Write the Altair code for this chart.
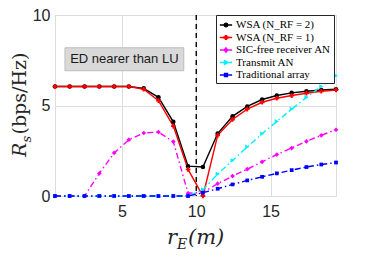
import altair as alt
import pandas as pd

# ---------------- data ----------------
r_e = [0.5, 1.49, 2.49, 3.48, 4.48, 5.47, 6.47, 7.46, 8.46, 9.45,
       10.45, 11.44, 12.44, 13.43, 14.43, 15.42, 16.42, 17.41, 18.41, 19.4]

wsa_nrf2 = [6.05, 6.05, 6.05, 6.05, 6.05, 6.05, 5.95, 5.45, 4.1, 1.65,
            1.6, 3.45, 4.4, 4.95, 5.33, 5.55, 5.7, 5.79, 5.86, 5.9]
wsa_nrf1 = [6.05, 6.05, 6.05, 6.05, 6.05, 6.05, 5.9, 5.27, 3.86, 1.47,
            0.0, 3.35, 4.23, 4.8, 5.18, 5.4, 5.55, 5.68, 5.79, 5.86]
sic_free = [0.0, 0.0, 0.0, 1.25, 2.38, 3.11, 3.48, 3.53, 3.0, 0.15,
            0.2, 0.68, 1.1, 1.48, 1.89, 2.29, 2.65, 3.02, 3.35, 3.66]
transmit_an = [0.0, 0.0, 0.0, 0.0, 0.0, 0.0, 0.0, 0.0, 0.0, 0.0,
               0.35, 1.21, 1.96, 2.71, 3.44, 4.12, 4.8, 5.45, 6.05, 6.65]
traditional = [0.0, 0.0, 0.0, 0.0, 0.0, 0.0, 0.0, 0.0, 0.0, 0.0,
               0.18, 0.4, 0.64, 0.86, 1.06, 1.25, 1.43, 1.6, 1.74, 1.85]

series_names = ["WSA (N_RF = 2)", "WSA (N_RF = 1)", "SIC-free receiver AN",
                "Transmit AN", "Traditional array"]
series_values = [wsa_nrf2, wsa_nrf1, sic_free, transmit_an, traditional]
series_colors = ["#000000", "#ff0000", "#ff00ff", "#00f0ff", "#0000ff"]
series_shapes = ["circle", "cross", "diamond", "triangle-right", "square"]
series_sizes = [20, 22, 22, 22, 14]
dashdot = [6, 3, 1.5, 3]
series_dash = [None, None, dashdot, dashdot, dashdot]

# legend symbols: short line with a marker in the middle
LINE = "M-1,0L1,0"
legend_paths = [
    LINE + "M-0.3,0A0.3,0.3,0,1,0,0.3,0A0.3,0.3,0,1,0,-0.3,0Z",
    LINE + "M-0.1,-0.32H0.1V-0.1H0.32V0.1H0.1V0.32H-0.1V0.1H-0.32V-0.1H-0.1Z",
    LINE + "M0,-0.35L0.3,0L0,0.35L-0.3,0Z",
    LINE + "M-0.25,-0.3L0.35,0L-0.25,0.3Z",
    LINE + "M-0.25,-0.25H0.25V0.25H-0.25Z",
]

divider_x = [10]
note_text = ["ED nearer than LU"]
note_box_x = [1.17, 9.16]
note_box_y = [6.92, 8.19]

# ---------------- build tables ----------------
rows = []
for name, vals in zip(series_names, series_values):
    for xv, yv in zip(r_e, vals):
        rows.append({"x": xv, "y": yv, "series": name})
df = pd.DataFrame(rows)

W, H = 281, 181
xs = alt.Scale(domain=[0.5, 19.4], nice=False, zero=False)
ys = alt.Scale(domain=[0, 10], nice=False)
xaxis = alt.Axis(values=[5, 10, 15], title=None, grid=True, ticks=False,
                 domain=False, labelFontSize=16, labelPadding=7,
                 labelFont="Liberation Sans", labelColor="#262626")
yaxis = alt.Axis(values=[0, 5, 10], title=None, grid=True, ticks=False,
                 domain=False, labelFontSize=16, labelPadding=5,
                 labelFont="Liberation Sans", labelColor="#262626")
X = alt.X("x:Q", scale=xs, axis=xaxis)
Y = alt.Y("y:Q", scale=ys, axis=yaxis)

layers = []

# annotation box
box_df = pd.DataFrame({"x": [note_box_x[0]], "x2": [note_box_x[1]],
                       "y": [note_box_y[0]], "y2": [note_box_y[1]],
                       "xm": [(note_box_x[0] + note_box_x[1]) / 2],
                       "ym": [(note_box_y[0] + note_box_y[1]) / 2],
                       "t": note_text})
layers.append(alt.Chart(box_df).mark_rect(fill="#d9d9d9", stroke="#bdbdbd", strokeWidth=1).encode(
    x=X, x2="x2:Q", y=Y, y2="y2:Q"))
layers.append(alt.Chart(box_df).mark_text(font="Liberation Sans", fontSize=13, color="#1a1a1a").encode(
    x=alt.X("xm:Q", scale=xs, axis=xaxis), y=alt.Y("ym:Q", scale=ys, axis=yaxis), text="t:N"))

# dashed divider
layers.append(alt.Chart(pd.DataFrame({"x": divider_x})).mark_rule(
    color="black", strokeWidth=1.4, strokeDash=[5, 4]).encode(x=X))

# lines
for name, col, dash in zip(series_names, series_colors, series_dash):
    kw = dict(color=col, strokeWidth=1.4)
    if dash:
        kw["strokeDash"] = dash
    layers.append(alt.Chart(df[df.series == name]).mark_line(**kw).encode(x=X, y=Y))

# markers
for name, col, shp, sz in zip(series_names, series_colors, series_shapes, series_sizes):
    layers.append(alt.Chart(df[df.series == name]).mark_point(
        shape=shp, filled=True, color=col, size=sz, opacity=1).encode(x=X, y=Y))

# legend only layer (no marks drawn)
cscale = alt.Scale(domain=series_names, range=series_colors)
legend = alt.Legend(title=None, orient="none", legendX=161, legendY=0, padding=3,
                    strokeColor="#262626", fillColor="white", symbolSize=150,
                    symbolStrokeWidth=1.3, labelFont="Liberation Serif",
                    labelFontSize=11, labelColor="black", labelOffset=3,
                    rowPadding=0.5, labelLimit=200)
layers.append(alt.Chart(df).transform_filter("false").mark_point(filled=True, opacity=1).encode(
    x=X, y=Y,
    fill=alt.Fill("series:N", scale=cscale, legend=legend, sort=series_names),
    stroke=alt.Stroke("series:N", scale=cscale, legend=legend, sort=series_names),
    shape=alt.Shape("series:N", scale=alt.Scale(domain=series_names, range=legend_paths),
                    legend=legend, sort=series_names),
))

# axis titles composed from text pieces (LaTeX-like subscripts)
one = pd.DataFrame({"a": [0]})
tfont = "DejaVu Serif"
tcol = "#262626"
# x title: r_E(m)
layers.append(alt.Chart(one).mark_text(text="r", font=tfont, fontStyle="italic", fontSize=21,
                                       align="left", baseline="alphabetic", color=tcol)
              .encode(x=alt.value(W / 2 - 28.5), y=alt.value(H + 48)))
layers.append(alt.Chart(one).mark_text(text="E", font=tfont, fontStyle="italic", fontSize=14,
                                       align="left", baseline="alphabetic", color=tcol)
              .encode(x=alt.value(W / 2 - 18.5), y=alt.value(H + 53)))
layers.append(alt.Chart(one).mark_text(text="(m)", font=tfont, fontStyle="italic", fontSize=21,
                                       align="left", baseline="alphabetic", color=tcol)
              .encode(x=alt.value(W / 2 - 7.5), y=alt.value(H + 48)))
# y title: R_s(bps/Hz)
layers.append(alt.Chart(one).mark_text(text="R", font=tfont, fontStyle="italic", fontSize=19,
                                       align="left", baseline="alphabetic", angle=270, color=tcol)
              .encode(x=alt.value(-29), y=alt.value(H / 2 + 51.5)))
layers.append(alt.Chart(one).mark_text(text="s", font=tfont, fontStyle="italic", fontSize=13,
                                       align="left", baseline="alphabetic", angle=270, color=tcol)
              .encode(x=alt.value(-24), y=alt.value(H / 2 + 37)))
layers.append(alt.Chart(one).mark_text(text="(bps/Hz)", font=tfont, fontSize=19,
                                       align="left", baseline="alphabetic", angle=270, color=tcol)
              .encode(x=alt.value(-29), y=alt.value(H / 2 + 29)))

chart = alt.layer(*layers).properties(
    width=W, height=H,
    autosize=alt.AutoSizeParams(type="none"),
    padding={"left": 47, "top": 7, "right": 30, "bottom": 58},
).configure_view(stroke="#3a3a3a", strokeWidth=1).configure_axis(
    gridColor="#e3e3e3", gridWidth=1
).configure(background="white")

chart.save("out.html", embed_options={"renderer": "svg", "actions": False})
